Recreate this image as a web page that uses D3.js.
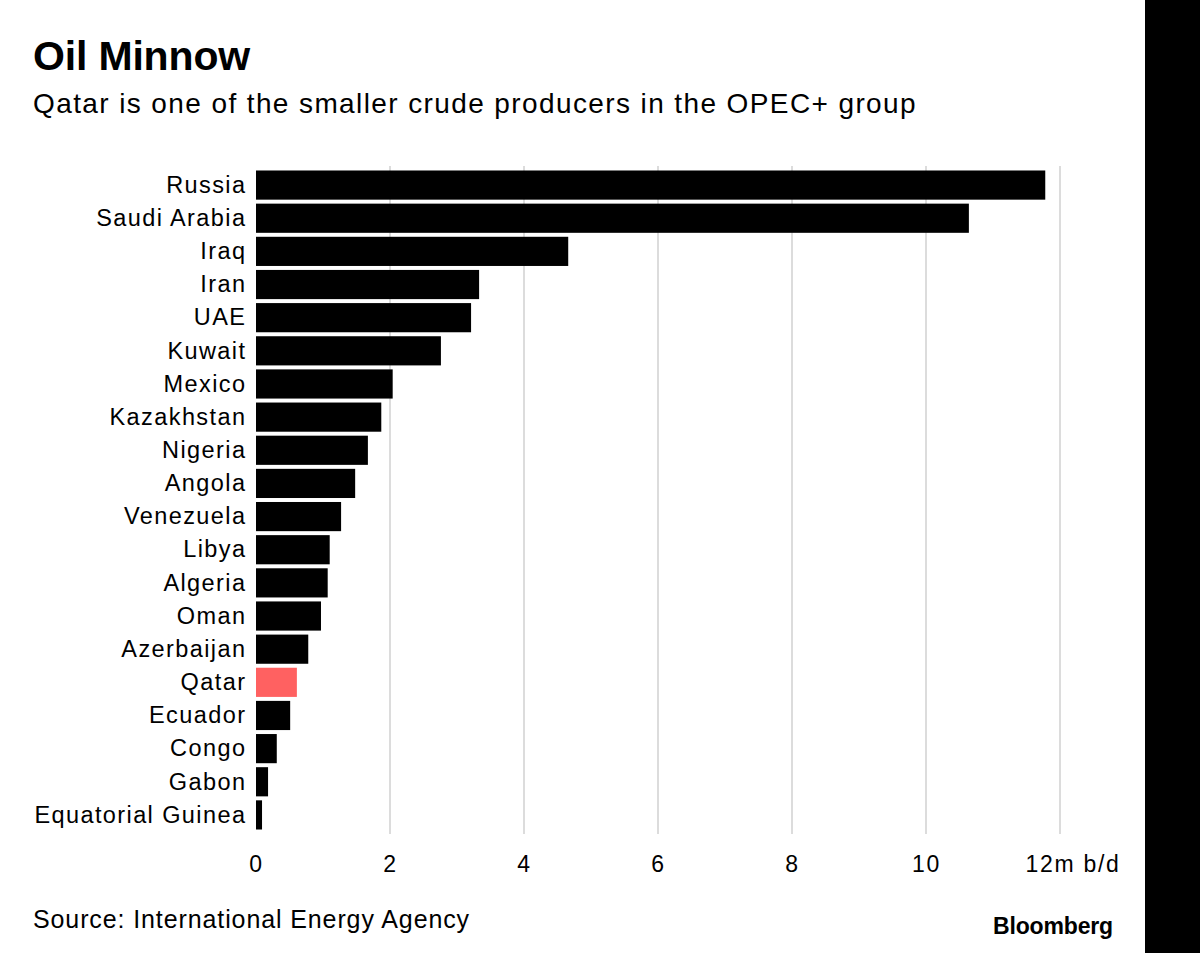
<!DOCTYPE html>
<html><head><meta charset="utf-8">
<script src="https://cdn.jsdelivr.net/npm/d3@7"></script>
<style>body{margin:0;background:#fff;} svg{display:block;font-family:"Liberation Sans",Arial,sans-serif;}</style>
</head><body>
<svg id="c" width="1200" height="953"></svg>
<script>
const countries = ["Russia","Saudi Arabia","Iraq","Iran","UAE","Kuwait","Mexico","Kazakhstan","Nigeria","Angola","Venezuela","Libya","Algeria","Oman","Azerbaijan","Qatar","Ecuador","Congo","Gabon","Equatorial Guinea"];
const production = [11.78,10.64,4.66,3.33,3.21,2.76,2.04,1.87,1.67,1.48,1.27,1.10,1.07,0.97,0.78,0.61,0.51,0.31,0.18,0.09];
const tickValues = [0,2,4,6,8,10,12];
const tickLabels = ["0","2","4","6","8","10","12m b/d"];
const highlight = "Qatar";

const svg = d3.select("#c");

// spread text to a target width via letter-spacing
function fit(sel, target){
  const n = sel.text().length;
  sel.attr("letter-spacing",0);
  const w = sel.node().getComputedTextLength();
  sel.attr("letter-spacing",(target-w)/n);
}

svg.append("rect").attr("x",1145).attr("y",0).attr("width",55).attr("height",953).attr("fill","#000");

const title = svg.append("text").attr("x",33).attr("y",70).attr("font-size",41).attr("font-weight","bold").text("Oil Minnow");
fit(title,217);
const sub = svg.append("text").attr("x",33).attr("y",113).attr("font-size",28).text("Qatar is one of the smaller crude producers in the OPEC+ group");
fit(sub,884);

const x = d3.scaleLinear().domain([0,12]).range([256,1060]);
const y = d3.scaleBand().domain(countries).range([168.5,831.5]).paddingInner(0.12).paddingOuter(0.06);

// gridlines
svg.append("g").selectAll("line").data(tickValues.filter(d=>d>0)).join("line")
  .attr("x1",d=>x(d)).attr("x2",d=>x(d)).attr("y1",166).attr("y2",834)
  .attr("stroke","#dcdcdc").attr("stroke-width",2);

svg.append("g").selectAll("rect").data(countries).join("rect")
  .attr("x",x(0)).attr("y",d=>y(d)).attr("height",y.bandwidth())
  .attr("width",(d,i)=>x(production[i])-x(0))
  .attr("fill",d=>d===highlight?"#ff6161":"#000");

const labels = svg.append("g").selectAll("text").data(countries).join("text")
  .attr("x",245).attr("y",d=>y(d)+y.bandwidth()/2).attr("dy","0.33em")
  .attr("text-anchor","end").attr("font-size",23.5).attr("fill","#000").text(d=>d);
// uniform spacing derived from the longest label
{
  const longest = labels.filter(d=>d==="Equatorial Guinea");
  const w = longest.node().getComputedTextLength();
  const ls = (212 - w)/17;
  labels.attr("letter-spacing",ls).attr("x",245+ls);
}

const axis = d3.axisBottom(x).tickValues(tickValues).tickSize(0).tickFormat((d,i)=>tickLabels[i]);
const ag = svg.append("g").attr("transform","translate(0,853)").call(axis);
ag.select(".domain").remove();
const tt = ag.selectAll("text").attr("font-size",23).attr("fill","#000").attr("font-family","Liberation Sans, Arial, sans-serif").attr("dy","0.71em");
{
  const last = tt.filter(d=>d===12);
  last.attr("letter-spacing",0);
  const w = last.node().getComputedTextLength();
  const ls = (95 - w)/7;
  tt.attr("letter-spacing",ls);
  last.attr("text-anchor","start").attr("x",-35);
}

const src = svg.append("text").attr("x",33).attr("y",928).attr("font-size",25).text("Source: International Energy Agency");
fit(src,437);
const bb = svg.append("text").attr("x",993).attr("y",934).attr("font-size",23).attr("font-weight","bold").text("Bloomberg");
fit(bb,120);
</script>
</body></html>
